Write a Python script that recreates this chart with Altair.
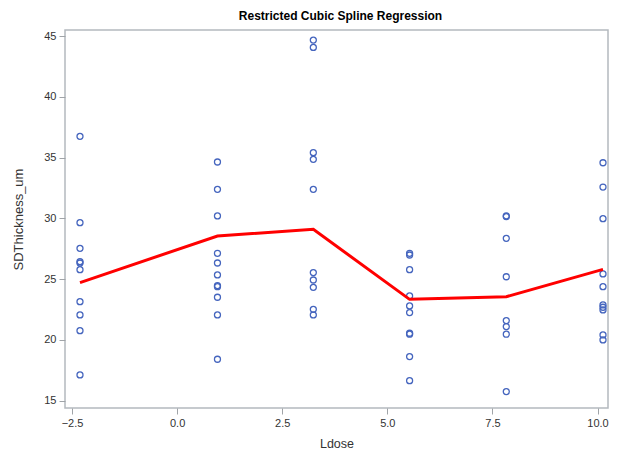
import altair as alt
import pandas as pd

# Observed data (Ldose groups and SDThickness_um values)
ldose_groups = [-2.31, 0.96, 3.24, 5.53, 7.83, 10.13]
thickness_g1 = [36.75, 29.65, 27.54, 26.44, 26.33, 25.78, 23.15, 22.06, 20.76, 17.12]
thickness_g2 = [34.64, 32.39, 30.2, 27.13, 26.33, 25.35, 24.47, 24.38, 23.51, 22.06, 18.41]
thickness_g3 = [44.67, 44.07, 35.41, 34.86, 32.39, 25.54, 24.93, 24.33, 22.52, 22.06]
thickness_g4 = [27.13, 26.99, 25.78, 23.62, 22.80, 22.25, 20.55, 20.47, 18.63, 16.65]
thickness_g5 = [30.2, 30.15, 28.36, 25.2, 21.59, 21.1, 20.47, 15.75]
thickness_g6 = [34.58, 32.58, 29.98, 25.43, 24.38, 22.88, 22.69, 22.47, 20.41, 20.0]

# Spline fit values at each dose
fit_values = [24.72, 28.55, 29.1, 23.34, 23.56, 25.81]

x_ticks = [-2.5, 0.0, 2.5, 5.0, 7.5, 10.0]
y_ticks = [15, 20, 25, 30, 35, 40, 45]

groups = [thickness_g1, thickness_g2, thickness_g3, thickness_g4, thickness_g5, thickness_g6]
rows = []
for xv, ys in zip(ldose_groups, groups):
    for yv in ys:
        rows.append({"Ldose": xv, "SDThickness_um": yv})
pts = pd.DataFrame(rows)
fit = pd.DataFrame({"Ldose": ldose_groups, "Fit": fit_values})

FONT = "Liberation Sans"

xscale = alt.Scale(domain=[-2.6665, 10.249], nice=False, zero=False)
yscale = alt.Scale(domain=[14.4, 45.5], nice=False, zero=False)

xaxis = alt.Axis(values=x_ticks, format=".1f", title="Ldose", grid=False,
                 domain=False, tickSize=6, labelPadding=3, titlePadding=9,
                 titleFontSize=12.5)
yaxis = alt.Axis(values=y_ticks, title="SDThickness_um", grid=False,
                 domain=False, tickSize=6, labelPadding=3, titlePadding=18,
                 titleFontSize=13)

points = alt.Chart(pts).mark_point(
    shape="circle", filled=False, size=36, strokeWidth=1.3, color="#4565BE", opacity=1
).encode(
    x=alt.X("Ldose:Q", scale=xscale, axis=xaxis),
    y=alt.Y("SDThickness_um:Q", scale=yscale, axis=yaxis),
)

line = alt.Chart(fit).mark_line(color="#FF0000", strokeWidth=3).encode(
    x=alt.X("Ldose:Q", scale=xscale),
    y=alt.Y("Fit:Q", scale=yscale),
)

chart = alt.layer(points, line).properties(
    width=543,
    height=378,
    padding={"left": 4, "top": 2, "right": 0, "bottom": 0},
    title=alt.TitleParams(
        "Restricted Cubic Spline Regression",
        font=FONT, fontSize=12, fontWeight="bold", color="#000000",
        anchor="middle", offset=7, dx=4,
    ),
).configure_view(
    stroke="#B4B9BF", strokeWidth=1.5
).configure_axis(
    labelFont=FONT, labelFontSize=11, labelColor="#333333",
    titleFont=FONT, titleFontWeight="normal", titleColor="#333333",
    tickColor="#A0A4A8",
)

chart.save("out.html", embed_options={"renderer": "svg", "actions": False})
